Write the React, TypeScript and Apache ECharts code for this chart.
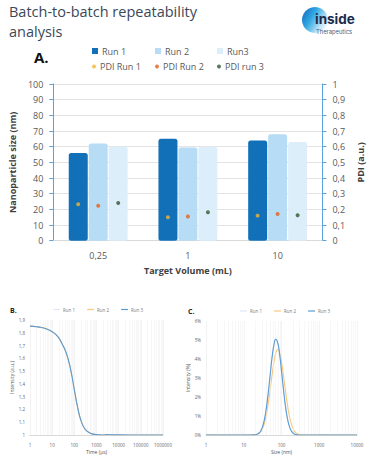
import React, { useEffect, useRef } from "react";
import * as echarts from "echarts";

// ---- Chart A data ----
const categories = ["0,25", "1", "10"];
const sizeRun1 = [56, 65, 64];
const sizeRun2 = [62, 59.5, 68];
const sizeRun3 = [60, 60, 63];
const pdiRun1 = [0.232, 0.149, 0.16];
const pdiRun2 = [0.223, 0.155, 0.17];
const pdiRun3 = [0.24, 0.181, 0.162];

// ---- Chart B data (correlation vs time, µs) ----
const corrTime = [1, 2, 3, 5, 7, 10, 15, 20, 30, 40, 50, 70, 100, 150, 200, 300, 500, 700, 1000, 2000, 3000, 5000, 10000, 100000, 1000000];
const corrRun1 = [1.851, 1.846, 1.842, 1.833, 1.822, 1.807, 1.784, 1.759, 1.702, 1.656, 1.606, 1.502, 1.352, 1.192, 1.112, 1.046, 1.016, 1.007, 1.003, 1.001, 1.002, 1.001, 1.0, 1.0, 1.0];
const corrRun2 = [1.852, 1.847, 1.843, 1.834, 1.823, 1.808, 1.785, 1.76, 1.703, 1.657, 1.607, 1.503, 1.353, 1.193, 1.113, 1.047, 1.016, 1.007, 1.003, 1.001, 1.002, 1.001, 1.0, 1.0, 1.0];
const corrRun3 = [1.852, 1.847, 1.843, 1.834, 1.823, 1.808, 1.785, 1.76, 1.704, 1.658, 1.608, 1.504, 1.354, 1.194, 1.113, 1.047, 1.016, 1.007, 1.003, 1.0, 1.003, 1.001, 1.001, 1.0, 1.0];

// ---- Chart C data (intensity % vs size, nm) ----
const sizeNm = [1, 10, 15, 20, 22, 25, 28, 32, 36, 40, 45, 50, 56, 63, 70, 79, 89, 100, 112, 126, 141, 159, 178, 200, 224, 251, 282, 316, 355, 400, 1000, 10000];
const intRun1 = [0, 0, 0, 0.014, 0.03, 0.09, 0.2, 0.48, 0.9, 1.48, 2.3, 3.16, 4.05, 4.75, 5.02, 4.86, 4.27, 3.37, 2.46, 1.58, 0.95, 0.5, 0.25, 0.11, 0.045, 0.016, 0.005, 0, 0, 0, 0, 0];
const intRun2 = [0, 0, 0, 0.015, 0.03, 0.08, 0.18, 0.38, 0.69, 1.11, 1.72, 2.37, 3.14, 3.83, 4.29, 4.5, 4.33, 3.85, 3.16, 2.4, 1.69, 1.08, 0.65, 0.36, 0.18, 0.087, 0.04, 0.015, 0.005, 0, 0, 0];
const intRun3 = [0, 0, 0, 0.014, 0.03, 0.09, 0.2, 0.48, 0.9, 1.48, 2.3, 3.16, 4.05, 4.75, 5.04, 4.87, 4.27, 3.37, 2.46, 1.58, 0.95, 0.5, 0.25, 0.11, 0.045, 0.016, 0.005, 0, 0, 0, 0, 0];

const C_RUN1 = "#1170b8";
const C_RUN2 = "#b7dcf5";
const C_RUN3 = "#ddeefb";
const C_PDI1 = "#f2b531";
const C_PDI2 = "#e5601c";
const C_PDI3 = "#2f5733";
const LINE1 = "#deebf7";
const LINE2 = "#f8c77e";
const LINE3 = "#5b9bd5";
const FONT = "Open Sans";
const LABEL = "#595959";

function minorMarks(maxExp: number) {
  const out: any[] = [];
  for (let e = 0; e < maxExp; e++) {
    for (let k = 2; k <= 9; k++) out.push({ xAxis: k * Math.pow(10, e) });
  }
  return out;
}

const fmtComma1 = (v: number) => (Math.abs(v - Math.round(v)) < 1e-9 ? String(Math.round(v)) : v.toFixed(1).replace(".", ","));

export default function App() {
  const ref = useRef<HTMLDivElement>(null);
  useEffect(() => {
    if (!ref.current) return;
    const chart = echarts.init(ref.current, undefined, { renderer: "svg" });

    const legendItem = (name: string, left: number, top: number, icon: string, w: number, h: number, size = 9) => ({
      data: [name],
      left,
      top,
      padding: 0,
      icon,
      itemWidth: w,
      itemHeight: h,
      itemGap: 0,
      selectedMode: false,
      formatter: (n: string) => n.replace(/^[BC] /, ""),
      textStyle: { fontFamily: FONT, fontSize: size, color: LABEL, padding: [0, 0, 0, -1] },
    });

    const smallLegend = (prefix: string, left: number, top: number) => ({
      data: [prefix + " Run 1", prefix + " Run 2", prefix + " Run 3"],
      left,
      top,
      padding: 0,
      icon: "rect",
      itemWidth: 7,
      itemHeight: 1.2,
      itemGap: 12,
      selectedMode: false,
      formatter: (n: string) => n.replace(/^[BC] /, ""),
      textStyle: { fontFamily: FONT, fontSize: 4.5, color: "#777", padding: [0, 0, 0, -2] },
    });

    const lineSeries = (name: string, xi: number, yi: number, xs: number[], ys: number[], color: string, z: number, marks?: any) => ({
      name,
      type: "line",
      xAxisIndex: xi,
      yAxisIndex: yi,
      data: xs.map((x, i) => [x, ys[i]]),
      smooth: true,
      showSymbol: false,
      symbol: "none",
      lineStyle: { color, width: 1.1 },
      itemStyle: { color },
      z,
      markLine: marks
        ? {
            silent: true,
            symbol: ["none", "none"],
            label: { show: false },
            lineStyle: { color: "#efefef", width: 0.5, type: "solid" },
            data: marks,
            animation: false,
          }
        : undefined,
    });

    chart.setOption({
      animation: false,
      textStyle: { fontFamily: FONT },
      grid: [
        { left: 48, top: 84, width: 275, height: 156.7 },
        { left: 30, top: 320, width: 133, height: 115 },
        { left: 206, top: 321, width: 151, height: 114 },
      ],
      legend: [
        legendItem("Run 1", 92, 46.5, "rect", 6, 6),
        legendItem("Run 2", 155, 46.5, "rect", 6, 6),
        legendItem("Run3", 217, 46.5, "rect", 6, 6),
        legendItem("PDI Run 1", 92, 62, "circle", 4, 4),
        legendItem("PDI Run 2", 155, 62, "circle", 4, 4),
        legendItem("PDI run 3", 217, 62, "circle", 4, 4),
        smallLegend("B", 53, 307),
        smallLegend("C", 240, 308.5),
      ],
      xAxis: [
        {
          type: "category",
          gridIndex: 0,
          data: categories,
          axisLine: { lineStyle: { color: "#d9d9d9" } },
          axisTick: { show: false },
          axisLabel: { color: LABEL, fontSize: 9, margin: 10, fontFamily: FONT },
          name: "Target Volume (mL)",
          nameLocation: "middle",
          nameGap: 25,
          nameTextStyle: { fontWeight: "bold", fontSize: 9, color: "#404040", fontFamily: FONT },
        },
        {
          type: "log",
          gridIndex: 1,
          logBase: 10,
          min: 1,
          max: 1000000,
          axisLine: { lineStyle: { color: "#d9d9d9" } },
          axisTick: { show: false },
          axisLabel: { color: "#666", fontSize: 4.5, margin: 7, formatter: (v: number) => String(Math.round(v)) },
          splitLine: { show: true, lineStyle: { color: "#e6e6e6", width: 0.5 } },
          name: "Time (µs)",
          nameLocation: "middle",
          nameGap: 14,
          nameTextStyle: { fontSize: 5, color: "#555" },
        },
        {
          type: "log",
          gridIndex: 2,
          logBase: 10,
          min: 1,
          max: 10000,
          axisLine: { lineStyle: { color: "#d9d9d9" } },
          axisTick: { show: false },
          axisLabel: { color: "#666", fontSize: 4.5, margin: 7, formatter: (v: number) => String(Math.round(v)) },
          splitLine: { show: true, lineStyle: { color: "#e6e6e6", width: 0.5 } },
          name: "Size (nm)",
          nameLocation: "middle",
          nameGap: 14,
          nameTextStyle: { fontSize: 5, color: "#555" },
        },
      ],
      yAxis: [
        {
          type: "value",
          gridIndex: 0,
          min: 0,
          max: 100,
          interval: 10,
          axisLine: { show: true, lineStyle: { color: "#5ba3dc" } },
          axisTick: { show: true, length: 4, lineStyle: { color: "#5ba3dc" } },
          axisLabel: { color: LABEL, fontSize: 9, margin: 10, fontFamily: FONT },
          splitLine: { show: true, lineStyle: { color: "#e3e3e3" } },
          name: "Nanoparticle size (nm)",
          nameLocation: "middle",
          nameGap: 30,
          nameTextStyle: { fontWeight: "bold", fontSize: 9, color: "#404040", fontFamily: FONT },
        },
        {
          type: "value",
          gridIndex: 0,
          position: "right",
          min: 0,
          max: 1,
          interval: 0.1,
          axisLine: { show: true, lineStyle: { color: "#5ba3dc" } },
          axisTick: { show: true, length: 4, lineStyle: { color: "#5ba3dc" } },
          axisLabel: { color: LABEL, fontSize: 9, margin: 10, fontFamily: FONT, formatter: fmtComma1 },
          splitLine: { show: false },
          name: "PDI (a.u.)",
          nameLocation: "middle",
          nameGap: 30,
          nameRotate: 90,
          nameTextStyle: { fontWeight: "bold", fontSize: 9, color: "#404040", fontFamily: FONT },
        },
        {
          type: "value",
          gridIndex: 1,
          min: 1,
          max: 1.9,
          interval: 0.1,
          axisLine: { show: false },
          axisTick: { show: false },
          axisLabel: { color: "#666", fontSize: 4.5, margin: 5, formatter: fmtComma1 },
          splitLine: { show: false },
          name: "Intensity (a.u.)",
          nameLocation: "middle",
          nameGap: 14,
          nameTextStyle: { fontSize: 5, color: "#555" },
        },
        {
          type: "value",
          gridIndex: 2,
          min: 0,
          max: 6,
          interval: 1,
          axisLine: { show: false },
          axisTick: { show: false },
          axisLabel: { color: "#666", fontSize: 4.5, margin: 5, formatter: (v: number) => v + "%" },
          splitLine: { show: false },
          name: "Intensity (%)",
          nameLocation: "middle",
          nameGap: 12,
          nameTextStyle: { fontSize: 5, color: "#555" },
        },
      ],
      series: [
        { name: "Run 1", type: "bar", xAxisIndex: 0, yAxisIndex: 0, data: sizeRun1, barWidth: 19, barGap: "5%", itemStyle: { color: C_RUN1, borderRadius: 2.5 } },
        { name: "Run 2", type: "bar", xAxisIndex: 0, yAxisIndex: 0, data: sizeRun2, barWidth: 19, barGap: "5%", itemStyle: { color: C_RUN2, borderRadius: 2.5 } },
        { name: "Run3", type: "bar", xAxisIndex: 0, yAxisIndex: 0, data: sizeRun3, barWidth: 19, barGap: "5%", itemStyle: { color: C_RUN3, borderRadius: 2.5 } },
        { name: "PDI Run 1", type: "scatter", xAxisIndex: 0, yAxisIndex: 1, data: pdiRun1, symbolSize: 4, symbolOffset: [-20, 0], itemStyle: { color: C_PDI1 }, z: 5 },
        { name: "PDI Run 2", type: "scatter", xAxisIndex: 0, yAxisIndex: 1, data: pdiRun2, symbolSize: 4, symbolOffset: [0, 0], itemStyle: { color: C_PDI2 }, z: 5 },
        { name: "PDI run 3", type: "scatter", xAxisIndex: 0, yAxisIndex: 1, data: pdiRun3, symbolSize: 4, symbolOffset: [20, 0], itemStyle: { color: C_PDI3 }, z: 5 },
        lineSeries("B Run 1", 1, 2, corrTime, corrRun1, LINE1, 3, minorMarks(6)),
        lineSeries("B Run 2", 1, 2, corrTime, corrRun2, LINE2, 4),
        lineSeries("B Run 3", 1, 2, corrTime, corrRun3, LINE3, 5),
        lineSeries("C Run 1", 2, 3, sizeNm, intRun1, LINE1, 3, minorMarks(4)),
        lineSeries("C Run 2", 2, 3, sizeNm, intRun2, LINE2, 4),
        lineSeries("C Run 3", 2, 3, sizeNm, intRun3, LINE3, 5),
      ],
      graphic: [
        { type: "text", left: 9, top: 4, style: { text: "Batch-to-batch repeatability", font: `14.5px "${FONT}"`, fill: "#3b4858" } },
        { type: "text", left: 9, top: 23.5, style: { text: "analysis", font: `14.5px "${FONT}"`, fill: "#3b4858" } },
        { type: "text", left: 34, top: 49, style: { text: "A.", font: `bold 15px "${FONT}"`, fill: "#111" } },
        { type: "text", left: 10, top: 307, style: { text: "B.", font: `bold 7px "${FONT}"`, fill: "#222" } },
        { type: "text", left: 188, top: 308, style: { text: "C.", font: `bold 7px "${FONT}"`, fill: "#222" } },
        {
          type: "circle",
          shape: { cx: 315, cy: 20, r: 13 },
          style: {
            fill: {
              type: "linear",
              x: 0,
              y: 0.2,
              x2: 1,
              y2: 0.8,
              colorStops: [
                { offset: 0, color: "#1b6fc2" },
                { offset: 0.35, color: "#2ea7e2" },
                { offset: 0.75, color: "#bfe3f6" },
                { offset: 1, color: "#ffffff" },
              ],
            },
          },
        },
        { type: "text", left: 315, top: 12, style: { text: "inside", font: `bold 13.5px Inter`, fill: "#1c2b4b" } },
        { type: "text", left: 316, top: 28.5, style: { text: "Therapeutics", font: `5.8px Inter`, fill: "#4a5a7a" } },
      ],
    });
    return () => chart.dispose();
  }, []);
  return <div ref={ref} style={{ position: "absolute", left: 0, top: 0, width: 373, height: 468 }} />;
}
